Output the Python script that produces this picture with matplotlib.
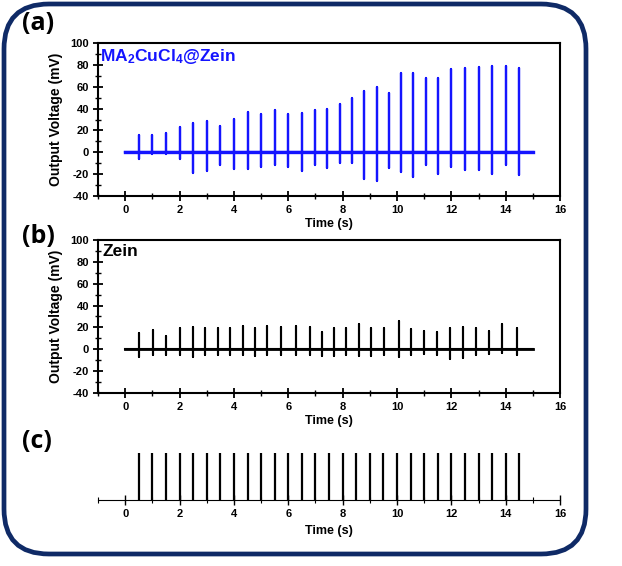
import numpy as np
import matplotlib
matplotlib.use('Agg')
import matplotlib.pyplot as plt
from matplotlib.patches import FancyBboxPatch
from matplotlib.transforms import IdentityTransform
from matplotlib.ticker import MultipleLocator

OUTPUT_FILE = 'out.png'

# (a) MA2CuCl4@Zein spikes: time (s), positive peak (mV), negative dip (mV)
TIMES_A = [0.5, 1.0, 1.5, 2.0, 2.5, 3.0, 3.5, 4.0, 4.5, 5.0, 5.5, 6.0, 6.5, 7.0,
           7.44, 7.9, 8.34, 8.8, 9.26, 9.7, 10.14, 10.58, 11.05, 11.5, 12.0,
           12.5, 13.0, 13.5, 14.0, 14.5]
PEAKS_A = [16, 15.4, 17.5, 23, 26.8, 28.6, 23.7, 30.8, 36.6, 34.8, 38.5, 34.8,
           36.3, 38.5, 40, 44, 50, 56.5, 60.2, 54.3, 72.6, 72.6, 68.3, 68.3, 76,
           76.7, 78.3, 79, 78.6, 76.7]
DIPS_A = [-5.8, -2, -2, -6, -19.4, -17.5, -11.4, -15.4, -15.4, -13, -11.4, -13,
          -17.5, -12, -14, -9.6, -9.6, -24, -26.4, -14, -18, -22.7, -11.8, -20,
          -13.7, -16.5, -16.5, -20, -11.8, -21]

# (b) Zein spikes
TIMES_B = [0.5, 1.01, 1.5, 2.02, 2.5, 2.94, 3.41, 3.87, 4.32, 4.77, 5.21, 5.72,
           6.29, 6.8, 7.24, 7.68, 8.13, 8.59, 9.06, 9.53, 10.06, 10.51, 11.0,
           11.49, 11.96, 12.43, 12.92, 13.39, 13.88, 14.41]
PEAKS_B = [15.3, 17.4, 12.2, 19.9, 20.5, 19.9, 19.9, 19.9, 21.1, 19, 21.1, 20.5,
           21.1, 20.5, 15.6, 19.6, 19.9, 23.5, 19, 19.6, 25.7, 18.3, 16.8, 15.6,
           19.9, 20.5, 19, 16.5, 22.9, 19.9]
DIPS_B = [-7, -5.5, -5.5, -5.5, -7, -5.5, -5.5, -5.5, -5.5, -6, -5.5, -5.5, -5,
          -5, -6.4, -6, -5.5, -6.4, -6, -5.5, -7, -5, -4, -5, -8.6, -7.6, -5, -4,
          -3, -5.5]

# (c) trigger pulses
PULSES_C = [0.5, 1.0, 1.5, 2.0, 2.5, 3.0, 3.5, 4.0, 4.5, 5.0, 5.5, 6.0, 6.5, 7.0,
            7.5, 8.0, 8.5, 9.0, 9.5, 10.0, 10.5, 11.0, 11.5, 12.0, 12.5, 13.0,
            13.5, 14.0, 14.5]

RECORD_START = 0.0
RECORD_END = 15.0
X_TICKS = [0, 2, 4, 6, 8, 10, 12, 14, 16]
Y_TICKS = [-40, -20, 0, 20, 40, 60, 80, 100]

BLUE = '#1414ff'
NAVY = '#0f2a66'

plt.rcParams['font.family'] = ['Liberation Sans', 'DejaVu Sans']
plt.rcParams['font.weight'] = 'bold'
plt.rcParams['axes.unicode_minus'] = False
plt.rcParams['mathtext.default'] = 'regular'


def spike_trace(times, peaks, dips):
    xs, ys = [RECORD_START], [0]
    for t, p, d in zip(times, peaks, dips):
        xs += [t, t, t, t]
        ys += [0, p, d, 0]
    xs.append(RECORD_END)
    ys.append(0)
    return xs, ys


def style_voltage_axes(ax):
    ax.set_xlim(-1, 16)
    ax.set_ylim(-40, 100)
    ax.set_xticks(X_TICKS)
    ax.set_yticks(Y_TICKS)
    ax.xaxis.set_minor_locator(MultipleLocator(1))
    ax.yaxis.set_minor_locator(MultipleLocator(10))
    for s in ax.spines.values():
        s.set_linewidth(1.5)
    ax.tick_params(which='major', direction='inout', length=7, width=1.3,
                   labelsize=8, pad=3)
    ax.tick_params(which='minor', direction='inout', length=4, width=1.0)
    ax.set_xlabel('Time (s)', fontsize=9, fontweight='bold', labelpad=2)
    ax.set_ylabel('Output Voltage (mV)', fontsize=10, fontweight='bold', labelpad=5)


fig = plt.figure(figsize=(6.22, 5.66), dpi=100)

ax_a = fig.add_axes([0.1576, 0.6537, 0.7428, 0.2703])
ax_b = fig.add_axes([0.1576, 0.3057, 0.7428, 0.2703])
ax_c = fig.add_axes([0.1576, 0.1166, 0.7428, 0.0830])

xa, ya = spike_trace(TIMES_A, PEAKS_A, DIPS_A)
ax_a.plot([RECORD_START, RECORD_END], [0, 0], color=BLUE, lw=2.4)
ax_a.plot(xa, ya, color=BLUE, lw=1.6)
style_voltage_axes(ax_a)
ax_a.text(0.004, 0.975, 'MA$_2$CuCl$_4$@Zein', transform=ax_a.transAxes,
          color=BLUE, fontsize=12.5, fontweight='bold', va='top', ha='left')

xb, yb = spike_trace(TIMES_B, PEAKS_B, DIPS_B)
ax_b.plot([RECORD_START, RECORD_END], [0, 0], color='black', lw=2.0)
ax_b.plot(xb, yb, color='black', lw=1.5)
style_voltage_axes(ax_b)
ax_b.text(0.01, 0.975, 'Zein', transform=ax_b.transAxes,
          color='black', fontsize=12.5, fontweight='bold', va='top', ha='left')

ax_c.vlines(PULSES_C, 0, 1, color='black', lw=1.6)
ax_c.set_xlim(-1, 16)
ax_c.set_ylim(0, 1)
ax_c.set_xticks(X_TICKS)
ax_c.xaxis.set_minor_locator(MultipleLocator(1))
ax_c.set_yticks([])
for side in ['left', 'right', 'top']:
    ax_c.spines[side].set_visible(False)
ax_c.spines['bottom'].set_linewidth(0.8)
ax_c.tick_params(which='major', direction='inout', length=7, width=1.0,
                 labelsize=8, pad=3)
ax_c.tick_params(which='minor', direction='inout', length=4, width=0.8)
ax_c.set_xlabel('Time (s)', fontsize=9, fontweight='bold', labelpad=4)
ax_c.patch.set_visible(False)

# panel letters
for label, ypix in [('(a)', 24), ('(b)', 236), ('(c)', 442)]:
    fig.text(22 / 622, 1 - ypix / 566, label, fontsize=18, fontweight='bold',
             family=['Open Sans', 'DejaVu Sans'], va='center', ha='left')

# rounded frame around all panels
frame = FancyBboxPatch((4, 12), 582, 550, boxstyle='round,pad=0,rounding_size=45',
                       transform=IdentityTransform(), facecolor='none',
                       edgecolor=NAVY, lw=3.4)
fig.add_artist(frame)

fig.savefig(OUTPUT_FILE, dpi=100)
plt.close(fig)
